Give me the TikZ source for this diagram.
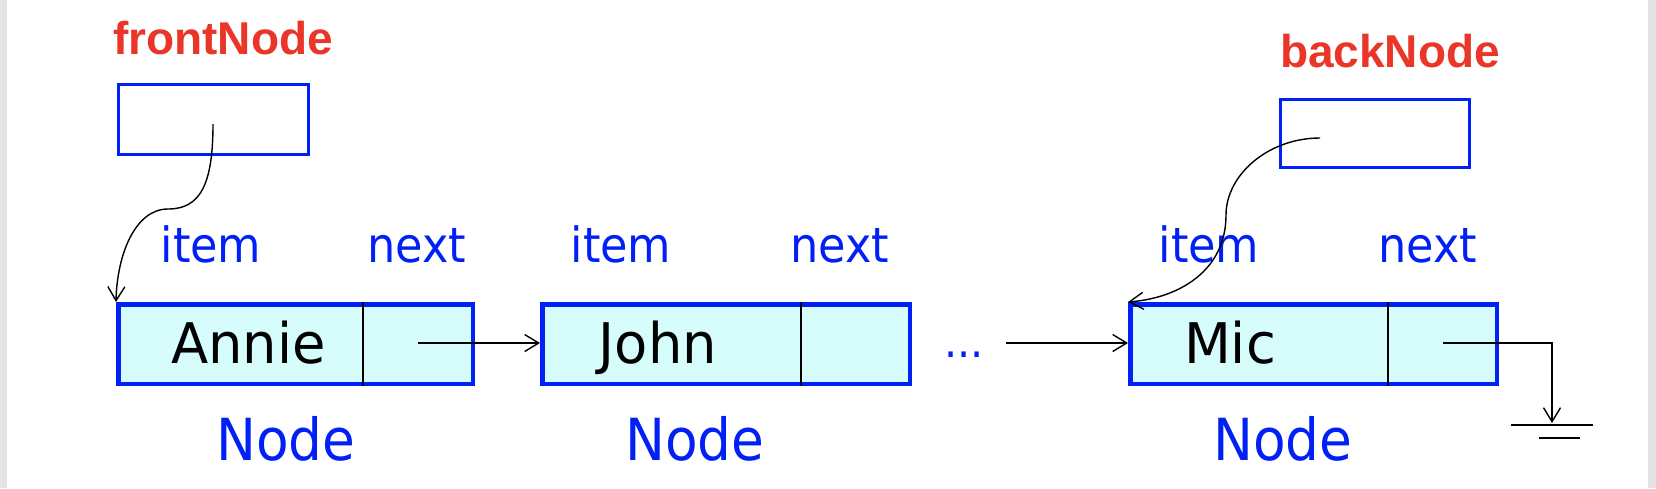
\documentclass[tikz,border=0pt]{standalone}
\usepackage{fontspec}
\usetikzlibrary{arrows.meta}
\newfontfamily\lblfont[FakeStretch=0.92]{DejaVu Sans}
\newfontfamily\valfont[FakeStretch=0.97]{DejaVu Sans}
\newfontfamily\ptrfont{Liberation Sans}
\definecolor{nodeblue}{RGB}{0,32,245}
\definecolor{cellfill}{RGB}{214,252,252}
\definecolor{ptrred}{RGB}{233,54,40}
\definecolor{sidegray}{RGB}{228,228,228}
\begin{document}
\begin{tikzpicture}[x=1pt,y=-1pt,
  listnode/.style={draw=nodeblue,line width=4.5pt,fill=cellfill,minimum height=79.5pt,inner sep=0pt},
  ptrbox/.style={draw=nodeblue,line width=3pt,fill=white,inner sep=0pt},
  fieldlbl/.style={text=nodeblue,font=\lblfont\fontsize{48.5}{52}\selectfont,anchor=base,inner sep=0pt},
  typelbl/.style={text=nodeblue,font=\lblfont\fontsize{58}{62}\selectfont,anchor=base,inner sep=0pt},
  vallbl/.style={text=black,font=\valfont\fontsize{56}{60}\selectfont,anchor=base,inner sep=0pt},
  ptrlbl/.style={text=ptrred,font=\ptrfont\bfseries\fontsize{46}{49}\selectfont,anchor=base,inner sep=0pt},
  link/.style={draw=black,line width=1.4pt,-{Straight Barb[length=14pt,width=17pt,line width=1.4pt]}},
  divider/.style={draw=black,line width=1.5pt},
  groundline/.style={draw=black,line width=1.5pt}]
\useasboundingbox (0,0) rectangle (1656,488);
\fill[white] (0,0) rectangle (1656,488);
\fill[sidegray] (0,0) rectangle (7,488);
\fill[sidegray] (1648,0) rectangle (1656,488);

% pointer variables
\node[ptrlbl] (frontlbl) at (223,54) {frontNode};
\node[ptrbox,minimum width=190pt,minimum height=70pt] (front) at (213.5,119.5) {};
\node[ptrlbl] (backlbl) at (1390,67) {backNode};
\node[ptrbox,minimum width=189pt,minimum height=68pt] (back) at (1375,133.5) {};

% list nodes
\node[listnode,minimum width=354.5pt] (n1) at (295.5,344) {};
\node[listnode,minimum width=367.5pt] (n2) at (726,344) {};
\node[listnode,minimum width=366.5pt] (n3) at (1313.5,344) {};

\draw[divider] (363,0 |- n1.north) -- (363,0 |- n1.south);
\draw[divider] (801,0 |- n2.north) -- (801,0 |- n2.south);
\draw[divider] (1388,0 |- n3.north) -- (1388,0 |- n3.south);

\node[vallbl] (v1) at (248.5,363) {Annie};
\node[vallbl] (v2) at (658,363) {John};
\node[vallbl] (v3) at (1230,363) {Mic};

\node[fieldlbl] (i1) at (211,262) {item};
\node[fieldlbl] (x1) at (417,262) {next};
\node[fieldlbl] (i2) at (621,262) {item};
\node[fieldlbl] (x2) at (840,262) {next};
\node[fieldlbl] (i3) at (1209,262) {item};
\node[fieldlbl] (x3) at (1428,262) {next};

\node[typelbl] (t1) at (286,460) {Node};
\node[typelbl] (t2) at (695,460) {Node};
\node[typelbl] (t3) at (1283,460) {Node};

\node[text=nodeblue,font=\lblfont\fontsize{45}{48}\selectfont,anchor=base,inner sep=0pt] (dots) at (964,357) {...};

% connectors
\coordinate (fs) at (213,124);
\coordinate (bs) at (1320,138);
\coordinate (p1) at (418,343);
\coordinate (pd) at (1006,343);
\coordinate (p3) at (1443,343);
\coordinate (gc) at (1552,343);
\coordinate (g) at (1552,423);

\draw[link] (fs) .. controls (213,185) and (200,209) .. (168,209)
  .. controls (135,209) and (117,255) .. (n1.north west);
\draw[link] (bs) .. controls (1268,138) and (1226,175) .. (1226,215)
  .. controls (1226,270) and (1180,298) .. (n3.north west);
\draw[link] (p1) -- (n2.west |- p1);
\draw[link] (pd) -- (n3.west |- pd);
\draw[link] (p3) -- (gc) -- (g);
\draw[groundline] (1511,425) -- (1593,425);
\draw[groundline] (1539,438) -- (1580,438);
\end{tikzpicture}
\end{document}
